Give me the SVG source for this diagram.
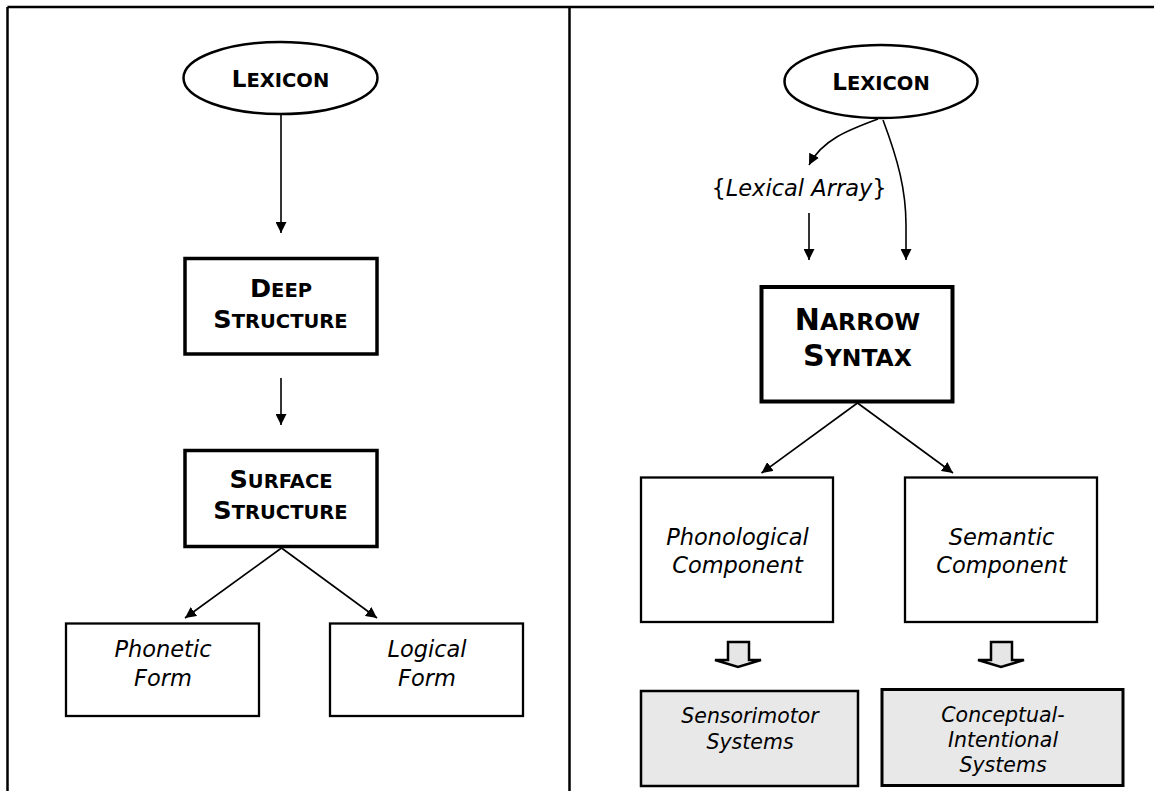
<svg xmlns="http://www.w3.org/2000/svg" width="1154" height="791" viewBox="0 0 1154 791">
<style>
.frame{stroke:#000;stroke-width:2.5;fill:none}
.ell{fill:#fff;stroke:#000;stroke-width:2.5}
.thick{fill:#fff;stroke:#000;stroke-width:3.5}
.thin{fill:#fff;stroke:#000;stroke-width:2.3}
.gray{fill:#e8e8e8;stroke:#000;stroke-width:2.5}
.block{fill:#e6e6e6;stroke:#000;stroke-width:2.5;stroke-linejoin:miter}
.conn{stroke:#000;stroke-width:1.6;fill:none}
.bold{font-family:"DejaVu Sans","Liberation Sans",sans-serif;font-weight:bold;fill:#000;text-anchor:middle}
.it{font-family:"DejaVu Sans","Liberation Sans",sans-serif;font-style:italic;font-size:22.5px;fill:#000;text-anchor:middle}
.its{font-family:"DejaVu Sans","Liberation Sans",sans-serif;font-style:italic;font-size:20.5px;fill:#000;text-anchor:middle}
.big{font-size:25.5px}.sm{font-size:19.5px}
.big2{font-size:30px}.sm2{font-size:23.5px}
.lb{font-size:23px}.ls{font-size:19.5px}
</style>
<defs>
<marker id="ah" markerUnits="userSpaceOnUse" markerWidth="12" markerHeight="11" refX="11" refY="5.5" orient="auto">
<path d="M0,0 L11,5.5 L0,11 z" fill="#000"/>
</marker>
</defs>
<g id="frame">
<line class="frame" x1="7.5" y1="7" x2="1154" y2="7"/>
<line class="frame" x1="7.5" y1="7" x2="7.5" y2="791"/>
<line class="frame" x1="569.5" y1="7" x2="569.5" y2="791"/>
</g>
<g id="connectors">
<line class="conn" x1="281" y1="114" x2="281" y2="233" marker-end="url(#ah)"/>
<line class="conn" x1="281" y1="378" x2="281" y2="425" marker-end="url(#ah)"/>
<line class="conn" x1="281.5" y1="548" x2="185" y2="618" marker-end="url(#ah)"/>
<line class="conn" x1="281.5" y1="548" x2="377" y2="618" marker-end="url(#ah)"/>
<path class="conn" d="M878,119 C848,130 822,140 809,165" marker-end="url(#ah)"/>
<path class="conn" d="M883,120 C898,160 906,190 906,225 L906,260" marker-end="url(#ah)"/>
<line class="conn" x1="809" y1="213" x2="809" y2="260" marker-end="url(#ah)"/>
<line class="conn" x1="857.5" y1="403" x2="761.5" y2="473" marker-end="url(#ah)"/>
<line class="conn" x1="857.5" y1="403" x2="953" y2="473" marker-end="url(#ah)"/>
<polygon class="block" points="728,642 749,642 749,660 761,660 738,667 715,660 728,660"/>
<polygon class="block" points="991,642 1012,642 1012,660 1024,660 1001,667 978,660 991,660"/>
</g>
<g id="lexicon-left">
<ellipse class="ell" cx="280.5" cy="78" rx="97" ry="36"/>
<text class="bold" x="280.5" y="87"><tspan class="lb">L</tspan><tspan class="ls">EXICON</tspan></text>
</g>
<g id="deep-structure">
<rect class="thick" x="185" y="258.5" width="192" height="95.5"/>
<text class="bold" x="281" y="297"><tspan class="big">D</tspan><tspan class="sm">EEP</tspan></text>
<text class="bold" x="280.5" y="328"><tspan class="big">S</tspan><tspan class="sm">TRUCTURE</tspan></text>
</g>
<g id="surface-structure">
<rect class="thick" x="185" y="450.5" width="192" height="96"/>
<text class="bold" x="281" y="488"><tspan class="big">S</tspan><tspan class="sm">URFACE</tspan></text>
<text class="bold" x="280.5" y="519"><tspan class="big">S</tspan><tspan class="sm">TRUCTURE</tspan></text>
</g>
<g id="phonetic-form">
<rect class="thin" x="66" y="623.5" width="193" height="92.5"/>
<text class="it" x="163" y="657">Phonetic</text>
<text class="it" x="163" y="686">Form</text>
</g>
<g id="logical-form">
<rect class="thin" x="330" y="623.5" width="193" height="92.5"/>
<text class="it" x="427" y="657">Logical</text>
<text class="it" x="427" y="686">Form</text>
</g>
<g id="lexicon-right">
<ellipse class="ell" cx="881" cy="81.5" rx="96.5" ry="36.5"/>
<text class="bold" x="881" y="90"><tspan class="lb">L</tspan><tspan class="ls">EXICON</tspan></text>
</g>
<g id="lexical-array">
<text class="it" x="799" y="196"><tspan font-style="normal">{</tspan>Lexical Array<tspan font-style="normal">}</tspan></text>
</g>
<g id="narrow-syntax">
<rect class="thick" x="761.5" y="287" width="191" height="114.5" style="stroke-width:4"/>
<text class="bold" x="857.5" y="330"><tspan class="big2">N</tspan><tspan class="sm2">ARROW</tspan></text>
<text class="bold" x="857.5" y="366"><tspan class="big2">S</tspan><tspan class="sm2">YNTAX</tspan></text>
</g>
<g id="phonological-component">
<rect class="thin" x="641" y="477.5" width="192" height="144.5"/>
<text class="it" x="737.5" y="545">Phonological</text>
<text class="it" x="737.5" y="573">Component</text>
</g>
<g id="semantic-component">
<rect class="thin" x="905" y="477.5" width="192" height="144.5"/>
<text class="it" x="1001.5" y="545">Semantic</text>
<text class="it" x="1001.5" y="573">Component</text>
</g>
<g id="sensorimotor-systems">
<rect class="gray" x="641" y="691" width="217" height="95"/>
<text class="its" x="750" y="722.5">Sensorimotor</text>
<text class="its" x="750" y="748.5">Systems</text>
</g>
<g id="conceptual-intentional-systems">
<rect class="gray" x="882" y="689.5" width="241" height="96" style="stroke-width:3"/>
<text class="its" x="1003" y="721.5">Conceptual-</text>
<text class="its" x="1003" y="746.5">Intentional</text>
<text class="its" x="1003" y="771.5">Systems</text>
</g>
</svg>
